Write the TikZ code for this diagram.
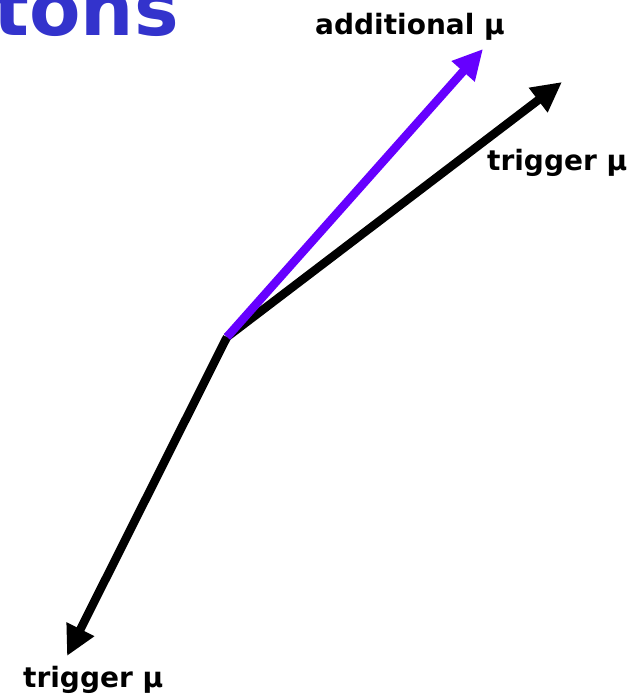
\documentclass[tikz,border=0pt]{standalone}
\usepackage{fontspec}
\setmainfont{DejaVu Sans}
\usetikzlibrary{arrows.meta}
\definecolor{titleblue}{HTML}{3333CC}
\definecolor{addpurple}{HTML}{6600FF}
\begin{document}
\begin{tikzpicture}[x=1pt,y=-1pt,
  arr/.style={line width=8.5pt,-{Triangle[length=30pt,width=29pt]}},
  lbl/.style={inner sep=0pt,anchor=base west,font=\fontsize{28}{32}\selectfont\bfseries},
  ttl/.style={inner sep=0pt,anchor=base east,text=titleblue,font=\fontsize{75}{80}\selectfont\bfseries}]
\useasboundingbox (0,0) rectangle (642,697);
\node[ttl] (title) at (179,35) {tons};
\coordinate (v) at (227,337);
\coordinate (ptip) at (483,49);
\coordinate (utip) at (562,82);
\coordinate (ltip) at (67,656);
\draw[arr,black] (v) -- (ltip);
\draw[arr,black] (v) -- (utip);
\draw[arr,addpurple] (v) -- (ptip);
\node[lbl] (add) at (315,34) {additional μ};
\node[lbl] (trigu) at (487,170) {trigger μ};
\node[lbl] (trigl) at (23,687) {trigger μ};
\end{tikzpicture}
\end{document}
